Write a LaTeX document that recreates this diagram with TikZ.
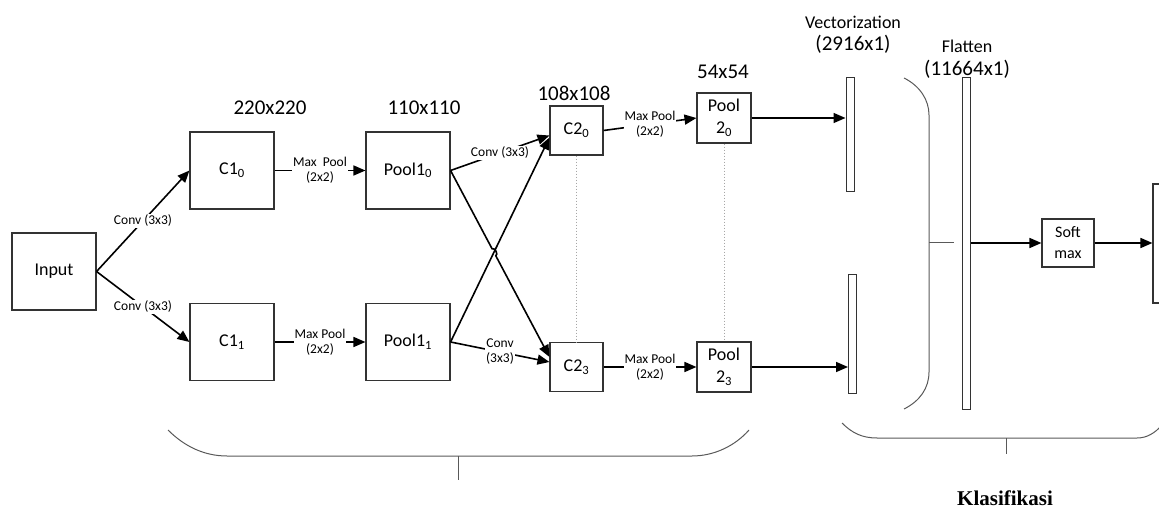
\documentclass[tikz,border=0pt]{standalone}
\usepackage{fontspec}
\setmainfont{Carlito}
\newfontfamily\captionserif{Liberation Serif}
\usetikzlibrary{arrows.meta,calc}

\begin{document}
\begin{tikzpicture}[
  x=1pt, y=-1pt,
  font=\fontsize{18}{22}\selectfont,
  fmap/.style  = {rectangle, draw=black!80, line width=1.1pt, inner sep=0pt,
                  minimum width=84pt, minimum height=77pt, align=center},
  fsmall/.style = {fmap, minimum width=53pt, minimum height=49pt},
  vbar/.style  = {rectangle, draw=black!80, line width=1pt, inner sep=0pt,
                  minimum width=8pt},
  dimtxt/.style = {font=\fontsize{21}{24}\selectfont},
  headtxt/.style = {font=\fontsize{18}{20}\selectfont},
  lbl/.style   = {fill=white, inner sep=1pt, align=center,
                  font=\fontsize{13.5}{15}\selectfont},
  conn/.style  = {-{Triangle[length=12pt,width=10pt]}, line width=1.6pt},
  bracket/.style = {draw=black!65, line width=1pt},
  dots/.style  = {draw=black!35, dotted, line width=1pt}
]
\useasboundingbox (0,0) rectangle (1159,510);
\clip (0,0) rectangle (1159,510);

% Feature extraction part
\node[fmap] (inp) at (54,271.5) {Input};
\node[fmap] (c10) at (232,170.5) {C1\textsubscript{0}};
\node[fmap] (c11) at (232,342) {C1\textsubscript{1}};
\node[fmap] (p10) at (408,170.5) {Pool1\textsubscript{0}};
\node[fmap] (p11) at (408,342) {Pool1\textsubscript{1}};
\node[fsmall] (c20) at (576.5,130.5) {C2\textsubscript{0}};
\node[fsmall] (c23) at (576.5,367) {C2\textsubscript{3}};
\node[fsmall, minimum width=54pt, minimum height=50pt] (p20) at (724,118) {Pool\\2\textsubscript{0}};
\node[fsmall, minimum width=54pt, minimum height=50pt] (p23) at (724,367) {Pool\\2\textsubscript{3}};

% Sizes above the maps
\node[dimtxt] (d1) at (270,108) {220x220};
\node[dimtxt] (d2) at (424,108) {110x110};
\node[dimtxt] (d3) at (574,93) {108x108};
\node[dimtxt] (d4) at (723,72) {54x54};

% Classification part
\node[vbar, minimum height=114pt] (v0) at (850,135) {};
\node[vbar, minimum height=118pt] (v3) at (852.5,334) {};
\node[vbar, minimum height=331pt] (fl) at (966.5,243.5) {};
\node[fsmall, minimum width=52pt, minimum height=48pt,
      font=\fontsize{16}{21}\selectfont] (sm) at (1068,243) {Soft\\max};
\node[fmap, minimum width=30pt, minimum height=119pt] (out) at (1168,243.5) {};

\node[headtxt] (vec) at (853,22) {Vectorization};
\node[dimtxt] (vecd) at (853,44) {(2916x1)};
\node[headtxt] (flt) at (967,46) {Flatten};
\node[dimtxt] (fltd) at (967,69) {(11664x1)};

% Connectors
\coordinate (c20in) at ([yshift=-7pt]c20.west);
\coordinate (c23in) at ([yshift=10pt]c23.west);
\coordinate (X) at (intersection of p10.east--c23in and p11.east--c20in);

\draw[conn] (inp.east) -- node[lbl] {Conv (3x3)} (c10.west);
\draw[conn] (inp.east) -- node[lbl] {Conv (3x3)} (c11.west);
\draw[conn] (c10) -- node[lbl] {Max\ \ Pool\\(2x2)} (p10);
\draw[conn] (c11) -- node[lbl] {Max Pool\\(2x2)} (p11);
\draw[conn] (p10.east) -- node[lbl] {Conv (3x3)} ([yshift=-5pt]c20.west);
\draw[conn] (p11.east) -- (c20in);
\draw[conn] (p10.east) -- ($(X)!4pt!(p10.east)$) to[bend left=90] ($(X)!4pt!(c23in)$) -- (c23in);
\draw[conn] (p11.east) -- node[lbl] {Conv\\(3x3)} ([yshift=5pt]c23.west);
\draw[conn] (c20.east) -- node[lbl] {Max Pool\\(2x2)} (p20.west);
\draw[conn] (c23) -- node[lbl] {Max Pool\\(2x2)} (p23);
\draw[dots] (c20.south) -- (c23.north);
\draw[dots] (p20.south) -- (p23.north);

\draw[conn] (p20.east) -- (p20.east -| v0.west);
\draw[conn] (p23.east) -- (p23.east -| v3.west);
\draw[conn] (sm.west -| fl.east) -- (sm.west);
\draw[conn] (sm.east) -- (sm.east -| out.west);

% Brackets
\draw[bracket] (904,78) .. controls (920,86) and (929,100) .. (929,115)
  -- (929,372) .. controls (929,388) and (920,401) .. (904,409);
\draw[bracket] (929,243) -- (954,243);
\draw[bracket] (168,430) .. controls (185,447) and (205,456) .. (227,456)
  -- (692,456) .. controls (714,456) and (735,446) .. (749,430);
\draw[bracket] (458,456) -- (458,480);
\draw[bracket] (842,423) .. controls (852,433) and (862,438) .. (877,438)
  -- (1137,438) .. controls (1147,438) and (1155,433) .. (1162,425);
\draw[bracket] (1006,438) -- (1006,454);

\node[anchor=base, font=\captionserif\bfseries\fontsize{21}{24}\selectfont] (klas) at (1005,505) {Klasifikasi};
\end{tikzpicture}
\end{document}
